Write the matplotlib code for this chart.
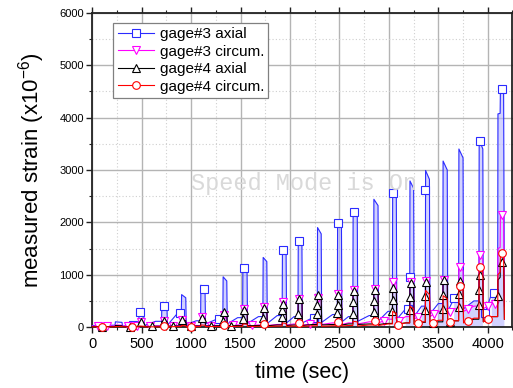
import numpy as np
import matplotlib
matplotlib.use('Agg')
import matplotlib.pyplot as plt
from matplotlib.lines import Line2D
from matplotlib.ticker import MultipleLocator

plt.rcParams['font.family'] = ['Liberation Sans', 'DejaVu Sans']
plt.rcParams['mathtext.default'] = 'regular'

# shared time stamps (sec): per loading cycle -> rise, peak, end of peak, drop, step
time_s = [0, 200,
          230, 233, 300, 305, 440,
          470, 473, 520, 525, 640,
          700, 703, 755, 760, 860,
          900, 903, 945, 950, 1050,
          1095, 1098, 1140, 1145, 1270,
          1320, 1323, 1360, 1365, 1470,
          1520, 1523, 1565, 1570, 1680,
          1725, 1728, 1765, 1770, 1870,
          1920, 1923, 1960, 1965, 2040,
          2080, 2083, 2120, 2125, 2230,
          2275, 2278, 2315, 2320, 2430,
          2478, 2481, 2520, 2525, 2590,
          2635, 2638, 2680, 2685, 2800,
          2845, 2848, 2890, 2895, 2990,
          3035, 3038, 3075, 3080, 3170,
          3210, 3213, 3250, 3255, 3330,
          3368, 3371, 3410, 3415, 3500,
          3545, 3548, 3590, 3595, 3660,
          3705, 3708, 3750, 3755, 3860,
          3910, 3913, 3950, 3955, 4040,
          4100, 4103, 4125, 4128, 4160, 4168]

g3_axial = [30, 35,
            35, 100, 90, 20, 40,
            40, 290, 240, 30, 110,
            110, 420, 380, 40, 260,
            260, 620, 560, 50, 120,
            120, 800, 700, 60, 160,
            160, 960, 880, 60, 180,
            180, 1140, 1080, 70, 200,
            200, 1330, 1250, 70, 220,
            220, 1480, 1420, 80, 200,
            200, 1660, 1580, 80, 180,
            180, 1900, 1780, 90, 240,
            240, 2000, 1900, 100, 200,
            200, 2220, 2120, 110, 220,
            220, 2440, 2320, 120, 300,
            300, 2590, 2460, 150, 350,
            350, 2790, 2650, 200, 400,
            400, 2990, 2820, 250, 450,
            450, 3170, 3000, 300, 550,
            550, 3400, 3230, 350, 500,
            500, 3580, 3400, 150, 650,
            650, 4070, 4080, 4560, 4540, 600]

g3_circum = [20, 20,
             20, 40, 35, 20, 20,
             20, 100, 90, 20, 25,
             25, 120, 110, 20, 30,
             30, 145, 130, 25, 30,
             30, 200, 180, 25, 30,
             30, 230, 210, 30, 40,
             40, 350, 320, 30, 40,
             40, 390, 360, 30, 50,
             50, 480, 450, 40, 60,
             60, 530, 500, 40, 60,
             60, 560, 530, 50, 80,
             80, 640, 600, 50, 80,
             80, 710, 660, 60, 100,
             100, 720, 680, 80, 150,
             150, 870, 820, 100, 200,
             200, 860, 800, 150, 250,
             250, 880, 840, 200, 300,
             300, 900, 850, 250, 350,
             350, 1150, 1080, 300, 400,
             400, 1380, 1300, 350, 450,
             450, 1500, 1520, 2150, 2100, 400]

g4_axial = [10, 10,
            10, 30, 25, 10, 10,
            10, 90, 80, 10, 15,
            15, 110, 100, 15, 20,
            20, 130, 120, 15, 20,
            20, 180, 160, 20, 25,
            25, 290, 260, 20, 30,
            30, 320, 290, 25, 30,
            30, 360, 330, 25, 40,
            40, 450, 420, 30, 40,
            40, 550, 510, 30, 50,
            50, 610, 570, 40, 50,
            50, 620, 580, 40, 60,
            60, 700, 650, 50, 60,
            60, 710, 660, 50, 70,
            70, 760, 700, 60, 80,
            80, 840, 780, 60, 90,
            90, 860, 800, 70, 100,
            100, 900, 840, 80, 120,
            120, 880, 820, 90, 150,
            150, 1000, 940, 100, 200,
            200, 900, 950, 1240, 1200, 150]

g4_circum = [5, 5,
             5, 10, 10, 5, 5,
             5, 20, 15, 5, 5,
             5, 30, 25, 5, 10,
             10, 30, 25, 5, 10,
             10, 40, 35, 10, 10,
             10, 50, 45, 10, 15,
             15, 60, 55, 10, 15,
             15, 60, 55, 10, 20,
             20, 80, 70, 15, 20,
             20, 80, 70, 15, 25,
             25, 90, 80, 15, 25,
             25, 100, 90, 20, 30,
             30, 110, 100, 20, 40,
             40, 120, 110, 30, 60,
             60, 300, 260, 40, 80,
             80, 400, 350, 50, 100,
             100, 700, 620, 60, 130,
             130, 600, 540, 70, 120,
             120, 800, 720, 80, 170,
             170, 1150, 1050, 100, 200,
             200, 1000, 1050, 1420, 1380, 150]

# sampled points shown with symbols
g3_axial_mt = [410, 480, 725, 887, 1130, 1283, 1530, 1930, 2090, 2240, 2485, 2645,
               3045, 3190, 3211, 3369, 3660, 3920, 3975, 4064, 4140]
g3_axial_mv = [35, 282, 403, 260, 724, 160, 1130, 1469, 1640, 180, 1990, 2200,
               2560, 350, 960, 2620, 550, 3560, 270, 650, 4550]

g3_circum_mt = [60, 150, 360, 450, 490, 580, 725, 820, 910, 1000, 1105, 1200, 1330,
                1420, 1530, 1620, 1735, 1930, 2090, 2200, 2285, 2490, 2645, 2855,
                2950, 3045, 3100, 3220, 3290, 3375, 3460, 3555, 3620, 3715, 3800,
                3920, 4000, 4070, 4140]
g3_circum_mv = [20, 20, 20, 20, 97, 26, 116, 27, 142, 30, 197, 30, 228,
                40, 347, 40, 388, 478, 528, 59, 558, 638, 708, 718,
                120, 866, 122, 857, 197, 878, 253, 897, 288, 1145, 343,
                1377, 403, 450, 2140]

g4_axial_mt = [100, 380, 490, 600, 725, 820, 910, 1000, 1105, 1200, 1321, 1330,
               1400, 1521, 1530, 1726, 1735, 1921, 1922, 1930, 2081, 2090, 2276,
               2277, 2285, 2479, 2480, 2490, 2636, 2637, 2645, 2846, 2847, 2855,
               3036, 3037, 3045, 3211, 3212, 3220, 3369, 3370, 3375, 3450, 3546,
               3547, 3555, 3620, 3706, 3707, 3715, 3911, 3912, 3920, 4101, 4140]
g4_axial_mv = [10, 10, 88, 14, 107, 17, 128, 18, 177, 22, 120, 287,
               26, 150, 317, 180, 357, 200, 330, 448, 250, 545, 250,
               420, 605, 260, 430, 617, 250, 470, 695, 280, 500, 708,
               300, 520, 755, 320, 580, 835, 330, 600, 857, 82, 350,
               620, 897, 95, 380, 640, 876, 420, 700, 998, 600, 1235]

g4_circum_mt = [100, 400, 725, 1000, 1330, 1735, 2090, 2490, 2855, 3090, 3290,
                3450, 3620, 3715, 3800, 3920, 4000, 4140]
g4_circum_mv = [5, 5, 28, 10, 49, 59, 79, 99, 119, 42, 75,
                75, 89, 787, 119, 1140, 153, 1405]

fig = plt.figure(figsize=(5.13, 3.88), dpi=100)
ax = fig.add_axes([0.180, 0.157, 0.819, 0.810])

series = [
    (g3_axial, g3_axial_mt, g3_axial_mv, '#2b2bff', 's', 'gage#3 axial'),
    (g3_circum, g3_circum_mt, g3_circum_mv, '#ff00ff', 'v', 'gage#3 circum.'),
    (g4_axial, g4_axial_mt, g4_axial_mv, '#000000', '^', 'gage#4 axial'),
    (g4_circum, g4_circum_mt, g4_circum_mv, '#ff0000', 'o', 'gage#4 circum.'),
]

# light band inside each axial spike of gage#3
t = np.array(time_s)
blue = np.array(g3_axial)
ax.fill_between(t, 0, blue, where=blue > 300, color='#b4b4ff', alpha=0.6,
                lw=0, zorder=2)

handles = []
for k, (vals, mt, mv, col, mk, lab) in enumerate(series):
    ax.plot(time_s, vals, color=col, lw=0.8, zorder=3 + k, clip_on=False)
    ax.plot(mt, mv, ls='none', marker=mk, ms=5.5, mfc='white', mec=col, mew=0.8,
            zorder=3 + k, clip_on=False)
    handles.append(Line2D([], [], color=col, lw=0.8, marker=mk, ms=5.5,
                          mfc='white', mec=col, mew=0.8, label=lab))

ax.set_xlim(0, 4250)
ax.set_ylim(0, 6000)
ax.xaxis.set_major_locator(MultipleLocator(500))
ax.xaxis.set_minor_locator(MultipleLocator(250))
ax.yaxis.set_major_locator(MultipleLocator(1000))
ax.yaxis.set_minor_locator(MultipleLocator(500))
ax.grid(which='major', color='#b4b4b4', lw=1.0, ls='-')
ax.grid(which='minor', color='#cfcfcf', lw=0.8, ls=(0, (1, 2)))
ax.set_axisbelow(True)

ax.tick_params(which='both', direction='out', top=True, right=True, color='#222222')
ax.tick_params(which='major', length=4, width=1.0)
ax.tick_params(which='minor', length=2.5, width=0.8)
ax.tick_params(axis='x', labelsize=10.5, pad=3)
ax.tick_params(axis='y', labelsize=8, pad=2)
for sp in ax.spines.values():
    sp.set_linewidth(1.3)
    sp.set_color('#222222')

ax.set_xlabel('time (sec)', fontsize=15.5, labelpad=8)
ax.set_ylabel('measured strain (x10$^{-6}$)', fontsize=16, labelpad=9)

fig.text(0.592, 0.528, 'Speed Mode is On', family='Liberation Mono', fontsize=17,
         color='#d9d9d9', ha='center', va='center', zorder=1)

leg = ax.legend(handles=handles, loc='upper left', bbox_to_anchor=(0.049, 0.968),
                borderaxespad=0, fontsize=11, handlelength=2.4, handletextpad=0.35,
                labelspacing=0.22, borderpad=0.3, fancybox=False, framealpha=1,
                edgecolor='#808080')
leg.get_frame().set_linewidth(0.9)
leg.set_zorder(10)

fig.savefig('out.png', dpi=100)
